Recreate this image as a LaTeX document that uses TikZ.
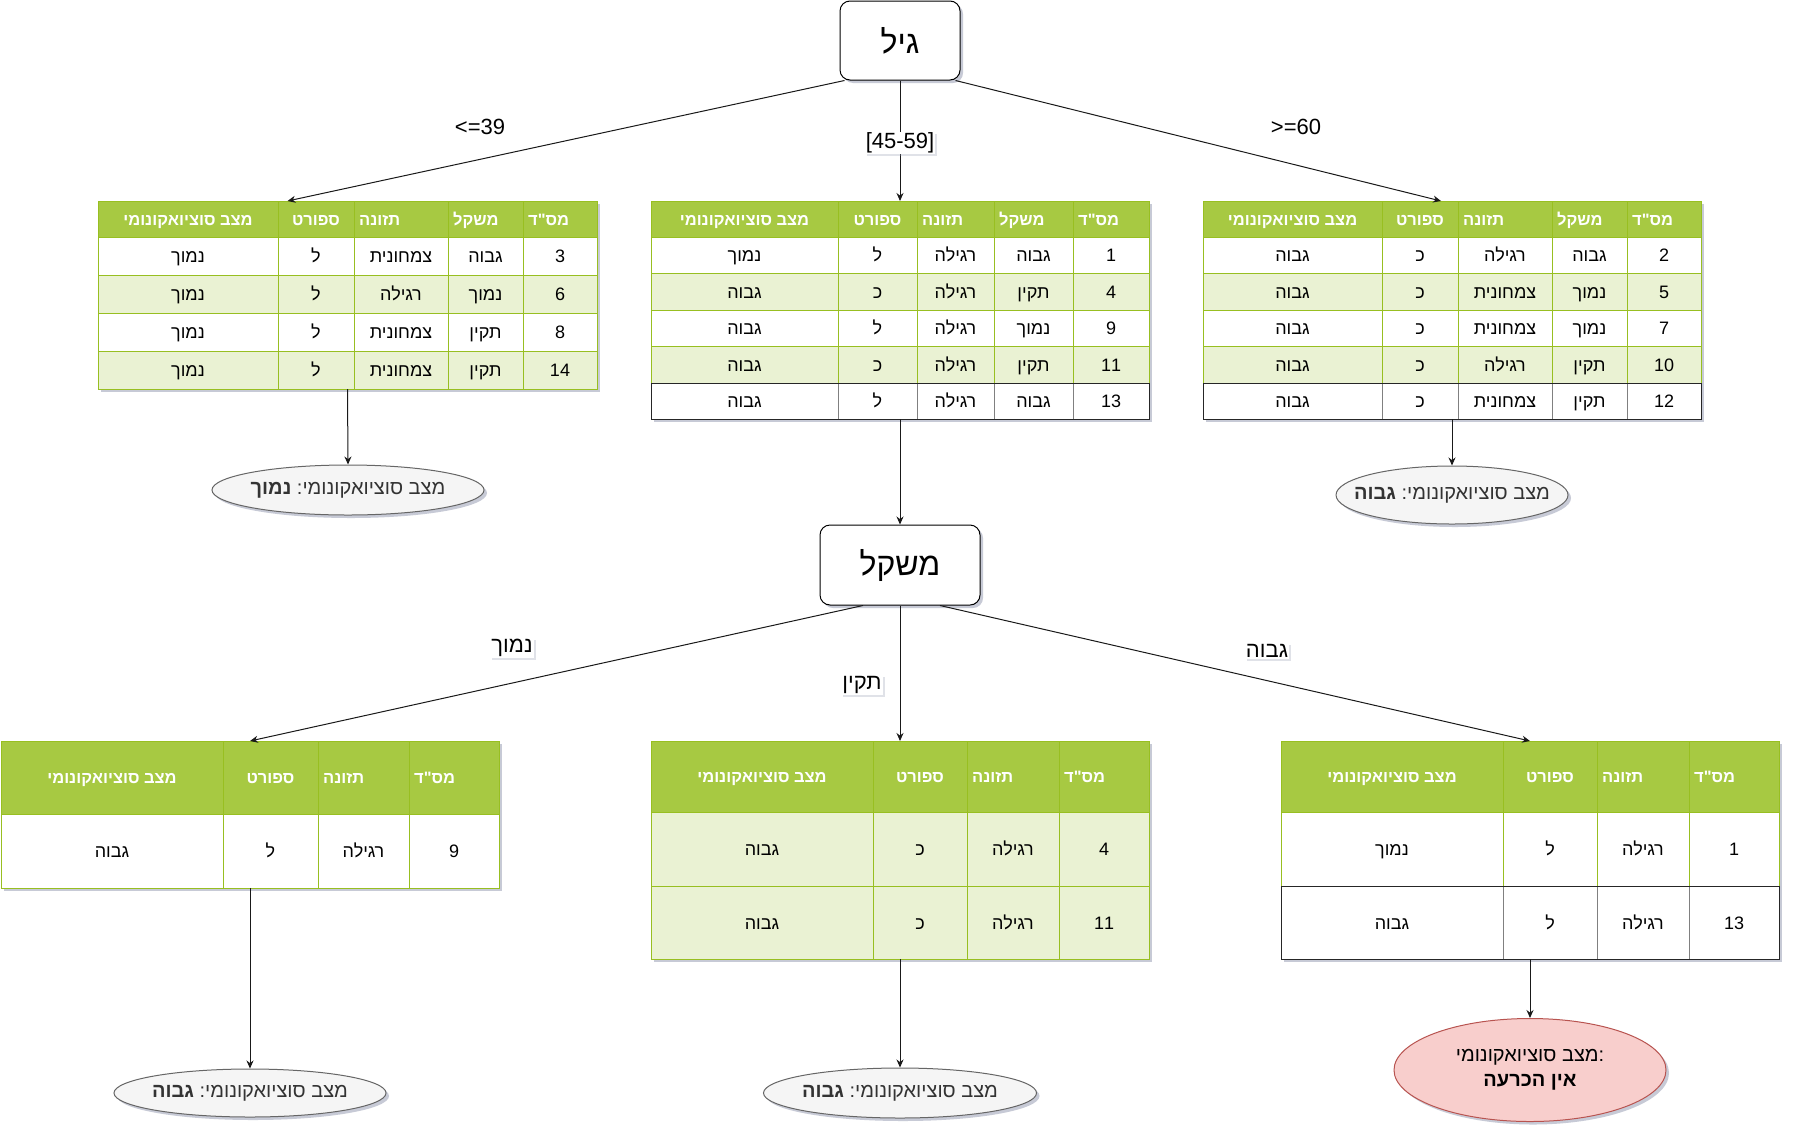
\documentclass[tikz,border=0pt]{standalone}
\usepackage{fontspec}
\setmainfont{Liberation Sans}
\newfontfamily\hebfont[Script=Hebrew]{Liberation Sans}
\TeXXeTstate=1
\usetikzlibrary{arrows.meta,shadows,shapes.geometric,calc}
\definecolor{hdr}{HTML}{A7C942}
\definecolor{hdrline}{HTML}{98BF21}
\definecolor{altrow}{HTML}{EAF2D3}
\definecolor{ellfill}{HTML}{F5F5F5}
\definecolor{elldraw}{HTML}{666666}
\definecolor{elltext}{HTML}{333333}
\definecolor{redfill}{HTML}{F8CECC}
\definecolor{reddraw}{HTML}{B85450}
\definecolor{shadowc}{HTML}{9A9FB5}
\newcommand{\heb}[1]{{\hebfont\beginR #1\endR}}
\newcommand{\cfont}{\fontsize{18}{21}\selectfont}
\newcommand{\hfont}{\fontsize{16.5}{20}\selectfont}
\newcommand{\efont}{\fontsize{20}{25}\selectfont}
\newcommand{\tfont}{\fontsize{32}{36}\selectfont}
\newcommand{\lfont}{\fontsize{22}{26}\selectfont}
% header texts
\newcommand{\HSoc}{\heb{מצב סוציואקונומי}}
\newcommand{\HSport}{\heb{ספורט}}
\newcommand{\HFood}{\heb{תזונה}}
\newcommand{\HWeight}{\heb{משקל}}
\newcommand{\HId}{\heb{מס"ד}}
\tikzset{
  sh/.style={drop shadow={shadow xshift=3pt,shadow yshift=-3pt,fill=shadowc,opacity=0.55}},
  lsh/.style={drop shadow={shadow xshift=2pt,shadow yshift=-2pt,fill=shadowc,opacity=0.3}},
  tabframe/.style={draw=hdrline,line width=1pt,fill=white,inner sep=0pt,outer sep=0pt,sh},
  gridg/.style={draw=hdrline,line width=1pt},
  innerdark/.style={draw=black!50,line width=1pt},
  outerdark/.style={draw=black!85,line width=1pt},
  ctext/.style={inner sep=0pt,font=\cfont,text=black,text height=13pt,text depth=0pt},
  htext/.style={inner sep=0pt,font=\hfont\bfseries,text=white,text height=12pt,text depth=0pt},
  titlebox/.style={draw=black,line width=1pt,rounded corners=10pt,fill=white,sh,font=\tfont,inner sep=0pt},
  ell/.style={ellipse,draw=elldraw,fill=ellfill,line width=1pt,inner sep=0pt,sh},
  redell/.style={ellipse,draw=reddraw,fill=redfill,line width=1pt,inner sep=0pt,sh},
  etext/.style={inner sep=0pt,font=\efont,text=elltext,align=center},
  elabel/.style={fill=white,inner sep=1pt,font=\lfont,lsh},
  plabel/.style={inner sep=1pt,font=\lfont},
  arr/.style={draw=black!90,line width=1pt,-{Stealth[length=8pt,width=7pt]}},
}
% table frame + header fill: name, xs, ncols, ytop, header bottom, ybottom
\newcommand{\TBL}[6]{%
\pgfmathsetmacro\TbXL{#2[0]}%
\pgfmathsetmacro\TbXR{#2[#3]}%
\pgfmathsetmacro\TbW{\TbXR-\TbXL}%
\pgfmathsetmacro\TbH{#6-#4}%
\node[tabframe,minimum width=\TbW pt,minimum height=\TbH pt,anchor=north west] (#1) at (\TbXL,#4) {};
\fill[hdr] (\TbXL,#4) rectangle (\TbXR,#5);
\draw[gridg] (\TbXL,#4) rectangle (\TbXR,#5);
}
% header texts: name, xs, ytop, header bottom, list of align/text
\newcommand{\THDR}[5]{%
\foreach \al/\hdtxt [count=\ci] in {#5} {%
  \pgfmathsetmacro\Xa{#2[\ci-1]}%
  \pgfmathsetmacro\Xb{#2[\ci]}%
  \pgfmathsetmacro\Xm{(\Xa+\Xb)/2}%
  \pgfmathsetmacro\Ym{(#3+#4)/2}%
  \if\al l%
    \node[htext,anchor=west] (#1-h\ci) at (\Xa+5,\Ym) {\hdtxt};%
  \else
    \node[htext] (#1-h\ci) at (\Xm,\Ym) {\hdtxt};%
  \fi
  \ifnum\ci>1 \draw[gridg] (\Xa,#3) -- (\Xa,#4);\fi
}}
% data row: name, xs, ncols, y1, y2, fill, border (g/d), cells, row index
\newcommand{\TROW}[9]{%
\pgfmathsetmacro\RxL{#2[0]}%
\pgfmathsetmacro\RxR{#2[#3]}%
\if d#7\tikzset{curin/.style=innerdark,curout/.style=outerdark}%
\else\tikzset{curin/.style=gridg,curout/.style=gridg}\fi
\fill[#6] (\RxL,#4) rectangle (\RxR,#5);
\foreach \ct [count=\ci] in {#8} {%
  \pgfmathsetmacro\Xa{#2[\ci-1]}%
  \pgfmathsetmacro\Xb{#2[\ci]}%
  \node[ctext] (#1-#9-\ci) at ({(\Xa+\Xb)/2},{(#4+#5)/2}) {\heb{\ct}};%
  \ifnum\ci>1 \draw[curin] (\Xa,#4) -- (\Xa,#5);\fi
}
\draw[curout] (\RxL,#4) rectangle (\RxR,#5);
}
\begin{document}
\begin{tikzpicture}[x=1pt,y=-1pt]
\useasboundingbox (0,0) rectangle (1793,1133);
\fill[white] (0,0) rectangle (1793,1133);

% title boxes
\node[titlebox,minimum width=120pt,minimum height=79pt] (gil) at (900,40.5) {\heb{גיל}};
\node[titlebox,minimum width=160pt,minimum height=80pt] (mishkal) at (900,565) {\heb{משקל}};

% ---------- top tables ----------
\def\XsA{{98,278,354,448,523,597}}
\TBL{t1}{\XsA}{5}{201}{237}{389}
\THDR{t1}{\XsA}{201}{237}{c/\HSoc, c/\HSport, l/\HFood, l/\HWeight, l/\HId}
\TROW{t1}{\XsA}{5}{237}{275}{white}{g}{נמוך,ל,צמחונית,גבוה,3}{1}
\TROW{t1}{\XsA}{5}{275}{313}{altrow}{g}{נמוך,ל,רגילה,נמוך,6}{2}
\TROW{t1}{\XsA}{5}{313}{351}{white}{g}{נמוך,ל,צמחונית,תקין,8}{3}
\TROW{t1}{\XsA}{5}{351}{389}{altrow}{g}{נמוך,ל,צמחונית,תקין,14}{4}

\def\XsB{{651,838,917,994,1073,1149}}
\TBL{t2}{\XsB}{5}{201}{237}{419}
\THDR{t2}{\XsB}{201}{237}{c/\HSoc, c/\HSport, l/\HFood, l/\HWeight, l/\HId}
\TROW{t2}{\XsB}{5}{237}{273}{white}{g}{נמוך,ל,רגילה,גבוה,1}{1}
\TROW{t2}{\XsB}{5}{273}{310}{altrow}{g}{גבוה,כ,רגילה,תקין,4}{2}
\TROW{t2}{\XsB}{5}{310}{346}{white}{g}{גבוה,ל,רגילה,נמוך,9}{3}
\TROW{t2}{\XsB}{5}{346}{383}{altrow}{g}{גבוה,כ,רגילה,תקין,11}{4}
\TROW{t2}{\XsB}{5}{383}{419}{white}{d}{גבוה,ל,רגילה,גבוה,13}{5}

\def\XsC{{1203,1382,1458,1552,1627,1701}}
\TBL{t3}{\XsC}{5}{201}{237}{419}
\THDR{t3}{\XsC}{201}{237}{c/\HSoc, c/\HSport, l/\HFood, l/\HWeight, l/\HId}
\TROW{t3}{\XsC}{5}{237}{273}{white}{g}{גבוה,כ,רגילה,גבוה,2}{1}
\TROW{t3}{\XsC}{5}{273}{310}{altrow}{g}{גבוה,כ,צמחונית,נמוך,5}{2}
\TROW{t3}{\XsC}{5}{310}{346}{white}{g}{גבוה,כ,צמחונית,נמוך,7}{3}
\TROW{t3}{\XsC}{5}{346}{383}{altrow}{g}{גבוה,כ,רגילה,תקין,10}{4}
\TROW{t3}{\XsC}{5}{383}{419}{white}{d}{גבוה,כ,צמחונית,תקין,12}{5}

% ---------- bottom tables ----------
\def\XsD{{1,223,318,409,499}}
\TBL{b1}{\XsD}{4}{741}{814}{888}
\THDR{b1}{\XsD}{741}{814}{c/\HSoc, c/\HSport, l/\HFood, l/\HId}
\TROW{b1}{\XsD}{4}{814}{888}{white}{g}{גבוה,ל,רגילה,9}{1}

\def\XsE{{651,873,967,1059,1149}}
\TBL{b2}{\XsE}{4}{741}{812}{959}
\THDR{b2}{\XsE}{741}{812}{c/\HSoc, c/\HSport, l/\HFood, l/\HId}
\TROW{b2}{\XsE}{4}{812}{886}{altrow}{g}{גבוה,כ,רגילה,4}{1}
\TROW{b2}{\XsE}{4}{886}{959}{altrow}{g}{גבוה,כ,רגילה,11}{2}

\def\XsF{{1281,1503,1597,1689,1779}}
\TBL{b3}{\XsF}{4}{741}{812}{959}
\THDR{b3}{\XsF}{741}{812}{c/\HSoc, c/\HSport, l/\HFood, l/\HId}
\TROW{b3}{\XsF}{4}{812}{886}{white}{g}{נמוך,ל,רגילה,1}{1}
\TROW{b3}{\XsF}{4}{886}{959}{white}{d}{גבוה,ל,רגילה,13}{2}

% ---------- result ellipses ----------
\node[ell,minimum width=272pt,minimum height=50pt] (e1) at (348,490) {};
\node[etext] (e1t) at (e1) {\heb{מצב סוציואקונומי\hbox{:} \textbf{נמוך}}};
\node[ell,minimum width=232pt,minimum height=58pt] (e3) at (1452,495) {};
\node[etext] (e3t) at (e3) {\heb{מצב סוציואקונומי\hbox{:} \textbf{גבוה}}};
\node[ell,minimum width=272pt,minimum height=48pt] (eb1) at (250,1093) {};
\node[etext] (eb1t) at (eb1) {\heb{מצב סוציואקונומי\hbox{:} \textbf{גבוה}}};
\node[ell,minimum width=273pt,minimum height=50pt] (eb2) at (900,1093) {};
\node[etext] (eb2t) at (eb2) {\heb{מצב סוציואקונומי\hbox{:} \textbf{גבוה}}};
\node[redell,minimum width=272pt,minimum height=103pt] (eb3) at (1530,1070) {};
\node[etext,text=black] (eb3t) at (eb3) {\heb{מצב סוציואקונומי}:\\\textbf{\heb{אין הכרעה}}};

% ---------- connectors ----------
\coordinate (gilL) at ([xshift=5pt]gil.south west);
\coordinate (gilR) at ([xshift=-5pt]gil.south east);
\coordinate (misL) at ([xshift=-37pt]mishkal.south);
\coordinate (misR) at ([xshift=40pt]mishkal.south);
\draw[arr] (gilL) -- ([xshift=-60pt]t1.north);
\draw[arr] (gil.south) -- (t2.north);
\draw[arr] (gilR) -- ([xshift=-11pt]t3.north);
\draw[arr] (t1.south) -- (e1.north);
\draw[arr] (t3.south) -- (e3.north);
\draw[arr] (t2.south) -- (mishkal.north);
\draw[arr] (misL) -- (b1.north);
\draw[arr] (mishkal.south) -- (b2.north);
\draw[arr] (misR) -- (b3.north);
\draw[arr] (b1.south) -- (eb1.north);
\draw[arr] (b2.south) -- (eb2.north);
\draw[arr] (b3.south) -- (eb3.north);

% ---------- edge labels ----------
\node[plabel] (l1) at (480,127) {<=39};
\node[elabel] (l2) at (900,143) {[45-59]};
\node[plabel] (l3) at (1296,127) {>=60};
\node[elabel] (l4) at (512,648) {\heb{נמוך}};
\node[elabel] (l5) at (862,685) {\heb{תקין}};
\node[elabel] (l6) at (1267,651) {\heb{גבוה}};
\end{tikzpicture}
\end{document}
